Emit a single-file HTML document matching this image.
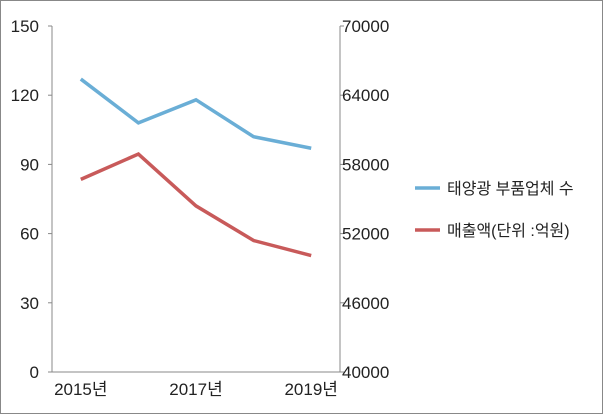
<!DOCTYPE html>
<html><head><meta charset="utf-8"><style>
body{margin:0;background:#fff}
svg{display:block;font-family:"Liberation Sans","Noto Sans CJK KR",sans-serif}
</style></head><body>
<svg width="603" height="414">
<rect x="0.5" y="0.5" width="602" height="413" fill="#fff" stroke="#888"/>
<g id="axes"></g>
<g id="series"></g>
<g>
<line x1="415" y1="188" x2="440" y2="188" stroke="#6aaed6" stroke-width="3.5"/>
<text x="447" y="194" font-size="16" fill="#222">태양광 부품업체 수</text>
<line x1="415" y1="230" x2="440" y2="230" stroke="#c85a5a" stroke-width="3.5"/>
<text x="447" y="236" font-size="16" fill="#222">매출액(단위 :억원)</text>
</g>
</svg>
<script>
const categories=["2015년","2016년","2017년","2018년","2019년"];
const companies=[127,108,118,102,97];
const sales=[56700,58900,54400,51400,50100];
const leftTicks=[0,30,60,90,120,150];
const rightTicks=[40000,46000,52000,58000,64000,70000];
const xLabels=["2015년","","2017년","","2019년"];
const NS="http://www.w3.org/2000/svg";
const X0=52,X1=340,Y0=372,Y1=26;
const x=i=>X0+(X1-X0)*(i+0.5)/categories.length;
const yL=v=>Y0-(v-0)/(150-0)*(Y0-Y1);
const yR=v=>Y0-(v-40000)/(70000-40000)*(Y0-Y1);
function mk(t,a,p){const e=document.createElementNS(NS,t);for(const k in a)e.setAttribute(k,a[k]);p.appendChild(e);return e;}
const ax=document.getElementById('axes');
let e=mk('line',{x1:X0,y1:Y1,x2:X0,y2:Y0,stroke:'#888'},ax);


e=mk('line',{x1:X1,y1:Y1,x2:X1,y2:Y0,stroke:'#888'},ax);


e=mk('line',{x1:X0,y1:Y0,x2:X1,y2:Y0,stroke:'#888'},ax);


leftTicks.forEach(v=>{const y=yL(v);
mk('line',{x1:X0-4,y1:y,x2:X0,y2:y,stroke:'#888'},ax);
const t=mk('text',{x:X0-13,y:y+6,'text-anchor':'end','font-size':17,fill:'#222'},ax);t.textContent=v;

});
rightTicks.forEach(v=>{const y=yR(v);
mk('line',{x1:X1,y1:y,x2:X1+4,y2:y,stroke:'#888'},ax);
const t=mk('text',{x:X1+2,y:y+6,'font-size':17,fill:'#222'},ax);t.textContent=v;

});
xLabels.forEach((l,i)=>{if(!l)return;
const t=mk('text',{x:x(i),y:Y0+23,'text-anchor':'middle','font-size':17,fill:'#222'},ax);t.textContent=l;

});
const s=document.getElementById('series');
let p=mk('polyline',{points:companies.map((v,i)=>x(i)+','+yL(v)).join(' '),fill:'none',stroke:'#6aaed6','stroke-width':3.5},s);


p=mk('polyline',{points:sales.map((v,i)=>x(i)+','+yR(v)).join(' '),fill:'none',stroke:'#c85a5a','stroke-width':3.5},s);


</script>
</body></html>
